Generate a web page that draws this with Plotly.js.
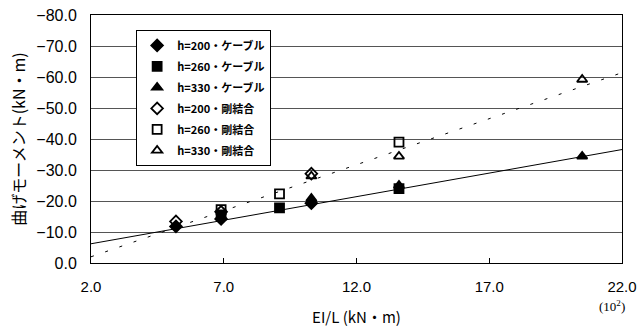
<!DOCTYPE html>
<html>
<head>
<meta charset="utf-8">
<script src="https://cdn.plot.ly/plotly-3.0.1.min.js"></script>
<style>html,body{margin:0;padding:0;background:#fff;}#chart{width:644px;height:328px;}</style>
</head>
<body>
<div id="chart"></div>
<script>
// EI/L values (x 10^2 kN·m)
const xH200 = [5.2, 6.9, 10.3];
const xH260 = [6.9, 9.1, 13.6];
const xH330 = [10.3, 13.6, 20.5];
// Bending moment (kN·m)
const cable200 = [-11.8, -14.2, -19.3];
const cable260 = [-15.5, -17.8, -24.0];
const cable330 = [-20.8, -25.0, -34.4];
const rigid200 = [-13.4, -16.5, -28.8];
const rigid260 = [-17.2, -22.3, -39.0];
const rigid330 = [-28.0, -34.4, -59.2];
// Trend lines
const trendX = [2, 22];
const cableTrend = [-6.2, -36.6];
const rigidTrend = [-2.0, -61.4];
const seriesNames = ['h=200・ケーブル','h=260・ケーブル','h=330・ケーブル','h=200・剛結合','h=260・剛結合','h=330・剛結合'];
const xTicks = [2, 7, 12, 17, 22];

const mk = (x, y, name, symbol, i) => ({
  x: x, y: y, name: name, type: 'scatter', mode: 'markers',
  legendgroup: 'g' + i,
  marker: {symbol: symbol, size: 9, color: '#000', line: {color: '#000', width: 1.8}}
});

const traces = [
  {x: trendX, y: cableTrend, mode: 'lines', type: 'scatter', showlegend: false, line: {color: '#000', width: 1}, hoverinfo: 'skip'},
  {x: trendX, y: rigidTrend, mode: 'lines', type: 'scatter', showlegend: false, line: {color: '#000', width: 1, dash: '3px,12px'}, hoverinfo: 'skip'},
  mk(xH200, cable200, seriesNames[0], 'diamond', 0),
  mk(xH260, cable260, seriesNames[1], 'square', 1),
  mk(xH330, cable330, seriesNames[2], 'triangle-up', 2),
  mk(xH200, rigid200, seriesNames[3], 'diamond-open', 3),
  mk(xH260, rigid260, seriesNames[4], 'square-open', 4),
  mk(xH330, rigid330, seriesNames[5], 'triangle-up-open', 5)
];

const layout = {
  width: 644, height: 328,
  margin: {l: 91, r: 22, t: 15, b: 65},
  paper_bgcolor: '#fff', plot_bgcolor: '#fff',
  font: {family: 'Liberation Sans, Arial, sans-serif', color: '#000', size: 15},
  showlegend: true,
  legend: {
    x: 0.085, y: 0.94, xanchor: 'left', yanchor: 'top',
    bgcolor: '#fff', bordercolor: '#000', borderwidth: 1,
    font: {family: 'Noto Sans CJK JP', size: 11, color: '#000', weight: 700},
    traceorder: 'grouped', tracegroupgap: 2, itemwidth: 30
  },
  xaxis: {
    range: [2, 22], tickvals: xTicks, tickformat: '.1f',
    ticks: 'inside', ticklen: 5, tickcolor: '#000',
    showgrid: false, zeroline: false,
    showline: true, linecolor: '#000', linewidth: 1, mirror: true,
    ticklabelstandoff: 10,
    tickfont: {size: 15},
    title: {text: 'EI/L (kN・m)', font: {family: 'Noto Sans CJK JP', size: 15}, standoff: 18}
  },
  yaxis: {
    range: [0, -80], dtick: 10, tickformat: '.1f',
    ticks: '', showgrid: true, gridcolor: '#555', gridwidth: 1,
    zeroline: false, showline: true, linecolor: '#000', linewidth: 1, mirror: true,
    ticklabelstandoff: 10,
    tickfont: {size: 16},
    title: {text: '曲げモーメント(kN・m)', font: {family: 'Noto Sans CJK JP', size: 16}, standoff: 6}
  },
  annotations: [{
    xref: 'paper', yref: 'paper', x: 0.981, y: -0.175, xanchor: 'center', yanchor: 'middle',
    text: '(10<sup>2</sup>)', showarrow: false,
    font: {family: 'Liberation Serif', size: 13, color: '#000'}
  }]
};

Plotly.newPlot('chart', traces, layout, {staticPlot: true, displayModeBar: false});
</script>
</body>
</html>
